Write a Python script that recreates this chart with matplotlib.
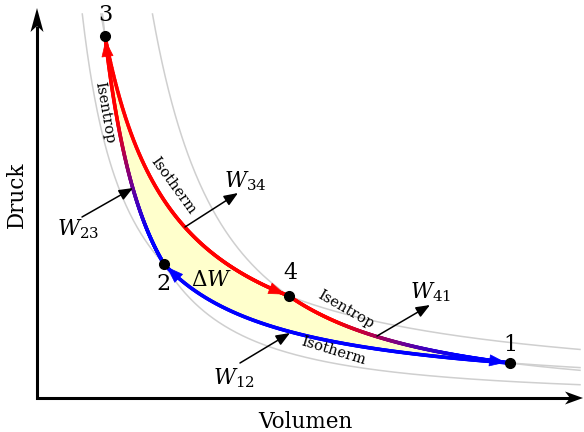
import numpy as np
import matplotlib.pyplot as plt
from matplotlib.collections import LineCollection

plt.rcParams['font.family'] = 'DejaVu Serif'
plt.rcParams['mathtext.fontset'] = 'dejavuserif'

# Zustandspunkte 1..4 (Volumen, Druck) in Diagramm-Einheiten
V = [473, 127, 68, 252]
p = [35, 134, 362, 102]
namen = ['1', '2', '3', '4']

# Prozesse (von, nach): 1->2 Isotherm, 2->3 Isentrop, 3->4 Isotherm, 4->1 Isentrop
prozesse = [(0, 1), (1, 2), (2, 3), (3, 0)]
p_max = 384     # obere Grenze der grauen Kurven
V_max = 543     # rechte Grenze der grauen Kurven

blau = np.array([0, 0, 1.0])
rot = np.array([1.0, 0, 0])


def exponent(i, j):
    return np.log(p[j] / p[i]) / np.log(V[i] / V[j])


def druck(i, j, v):
    return p[i] * (V[i] / v) ** exponent(i, j)


fig = plt.figure(figsize=(5.84, 4.32), dpi=100)
ax = fig.add_axes([0, 0, 1, 1])
ax.set_xlim(-37, 547)
ax.set_ylim(-34, 398)
ax.axis('off')

# graue verlaengerte Isothermen / Isentropen
for i, j in prozesse:
    n = exponent(i, j)
    v0 = V[i] * (p[i] / p_max) ** (1 / n)
    v = np.linspace(v0, V_max, 400)
    ax.plot(v, druck(i, j, v), color='#cfcfcf', lw=1.1, zorder=1)

# Kreisprozess-Kurven
kurven = []
for i, j in prozesse:
    v = np.linspace(V[i], V[j], 300)
    kurven.append((v, druck(i, j, v)))

ax.fill(np.concatenate([k[0] for k in kurven]),
        np.concatenate([k[1] for k in kurven]),
        color='#ffffcc', lw=0, zorder=2)


def farben(v, pp, a, b, umkehren):
    s = np.concatenate([[0], np.cumsum(np.hypot(np.diff(v), np.diff(pp)))])
    s = s / s[-1]
    c = np.clip((s - a) / (b - a), 0, 1)
    if umkehren:
        c = 1 - c
    return [tuple(blau * (1 - t) + rot * t) for t in c[:-1]]


verlauf = {0: ('blue', None), 1: ('grad', (0.15, 0.65, False)),
           2: ('red', None), 3: ('grad', (0.23, 0.77, True))}

for k, (v, pp) in enumerate(kurven):
    art, par = verlauf[k]
    seg = np.stack([np.column_stack([v[:-1], pp[:-1]]),
                    np.column_stack([v[1:], pp[1:]])], axis=1)
    if art == 'grad':
        cols = farben(v, pp, *par)
    else:
        cols = art
    ax.add_collection(LineCollection(seg, colors=cols, lw=2.6,
                                     capstyle='round', zorder=3))
    endfarbe = {'blue': 'blue', 'red': 'red'}.get(art, None)
    if endfarbe is None:
        endfarbe = 'blue' if par[2] else 'red'
    ax.annotate('', xy=(v[-1], pp[-1]), xytext=(v[-12], pp[-12]),
                arrowprops=dict(arrowstyle='-|>,head_length=0.55,head_width=0.2',
                                mutation_scale=20, color=endfarbe, lw=0.5,
                                shrinkA=0, shrinkB=3), zorder=4)

ax.plot(V, p, 'o', color='black', ms=7, zorder=5)
off = [(0, 18), (-1, -20), (0, 21), (1, 23)]
for k in range(4):
    ax.text(V[k] + off[k][0], p[k] + off[k][1], namen[k], fontsize=16,
            ha='center', va='center', zorder=6)

# Arbeitspfeile
w_pfeile = [('$W_{23}$', (45, 181), (96, 210), (41, 169)),
            ('$W_{34}$', (148, 171), (201, 205), (208, 217)),
            ('$W_{12}$', (203, 35), (253, 65), (197, 20)),
            ('$W_{41}$', (340, 62), (393, 93), (394, 106))]
for txt, a, b, t in w_pfeile:
    ax.annotate('', xy=b, xytext=a,
                arrowprops=dict(arrowstyle='-|>,head_length=0.7,head_width=0.28',
                                mutation_scale=12, color='black', lw=1.1,
                                shrinkA=0, shrinkB=0), zorder=6)
    ax.text(t[0], t[1], txt, fontsize=15.5, ha='center', va='center', zorder=6)

ax.text(175, 118, r'$\Delta W$', fontsize=15.5, ha='center', va='center', zorder=6)

# Kurvenbeschriftungen
for txt, x, y, rot_w in [('Isentrop', 68, 285, -80), ('Isotherm', 136, 212, -54),
                         ('Isentrop', 309, 88, -30), ('Isotherm', 296, 47, -17)]:
    ax.text(x, y, txt, fontsize=10.5, rotation=rot_w, rotation_mode='anchor',
            ha='center', va='center', zorder=6)

# Achsen mit Pfeilen
ax.plot([0, 0, 535], [372, 0, 0], color='black', lw=2.2, solid_capstyle='butt',
        solid_joinstyle='miter', zorder=7)
ax.fill([0, -6.5, 0, 6.5], [390, 366, 372, 366], color='black', lw=0, zorder=7)
ax.fill([546, 528, 533, 528], [0, 6.5, 0, -6.5], color='black', lw=0, zorder=7)

ax.text(-20, 203, 'Druck', fontsize=15.5, rotation=90, ha='center', va='center')
ax.text(268, -24, 'Volumen', fontsize=15.5, ha='center', va='center')

fig.savefig('out.png', dpi=100)
